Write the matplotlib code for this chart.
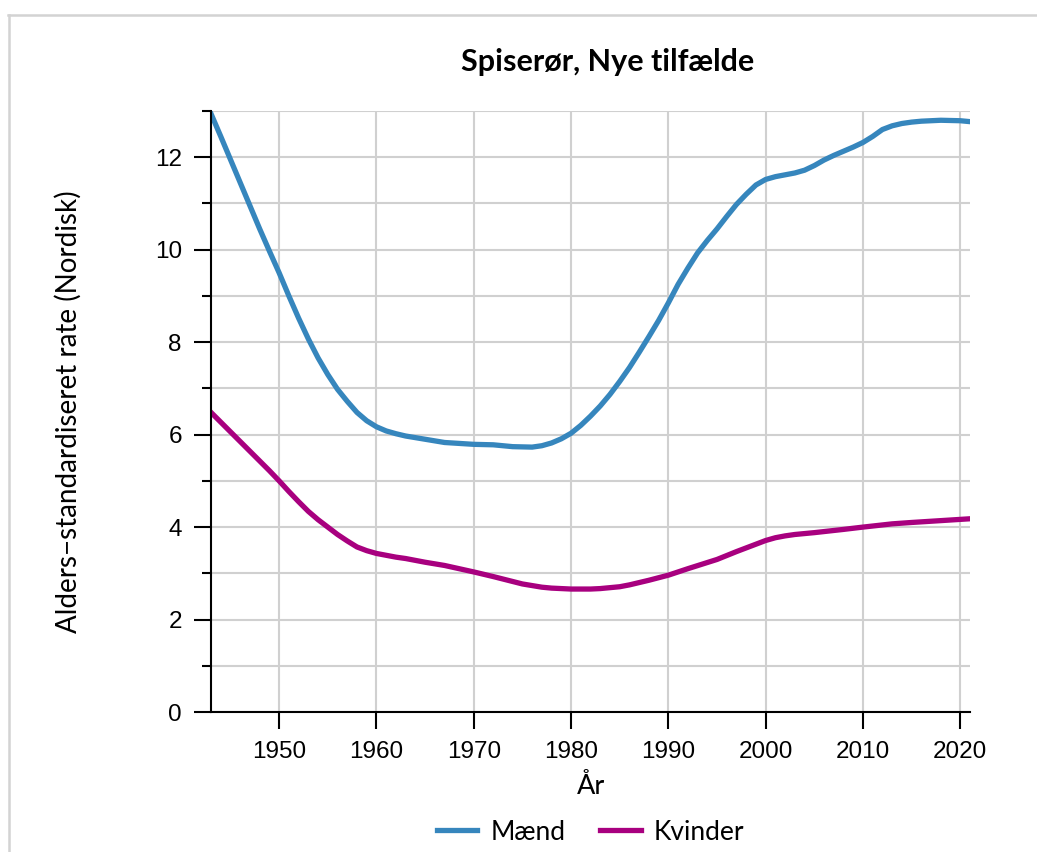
import numpy as np
import matplotlib.pyplot as plt
from matplotlib.lines import Line2D

years_m = [1943, 1944, 1945, 1946, 1947, 1948, 1949, 1950, 1951, 1952, 1953, 1954,
           1955, 1956, 1957, 1958, 1959, 1960, 1961, 1962, 1963, 1965, 1967, 1970,
           1972, 1974, 1976, 1977, 1978, 1979, 1980, 1981, 1982, 1983, 1984, 1985,
           1986, 1987, 1988, 1989, 1990, 1991, 1992, 1993, 1994, 1995, 1996, 1997,
           1998, 1999, 2000, 2001, 2002, 2003, 2004, 2005, 2006, 2007, 2008, 2009,
           2010, 2011, 2012, 2013, 2014, 2015, 2016, 2018, 2020, 2021]
maend = [12.94, 12.45, 11.95, 11.45, 10.95, 10.45, 9.97, 9.5, 9.0, 8.52, 8.07, 7.66,
         7.3, 6.98, 6.72, 6.48, 6.3, 6.17, 6.08, 6.02, 5.97, 5.9, 5.83, 5.79,
         5.78, 5.74, 5.73, 5.76, 5.82, 5.91, 6.03, 6.2, 6.4, 6.62, 6.87, 7.15,
         7.45, 7.78, 8.12, 8.47, 8.85, 9.25, 9.6, 9.93, 10.2, 10.45, 10.72, 10.98,
         11.2, 11.4, 11.52, 11.58, 11.62, 11.66, 11.72, 11.82, 11.94, 12.04, 12.13, 12.22,
         12.32, 12.45, 12.6, 12.68, 12.73, 12.76, 12.78, 12.8, 12.79, 12.77]

years_k = [1943, 1944, 1945, 1946, 1947, 1948, 1949, 1950, 1951, 1952, 1953, 1954,
           1955, 1956, 1957, 1958, 1959, 1960, 1961, 1962, 1963, 1965, 1967, 1970,
           1972, 1975, 1977, 1978, 1980, 1982, 1983, 1985, 1986, 1987, 1988, 1990,
           1992, 1995, 1997, 1998, 2000, 2001, 2002, 2003, 2005, 2008, 2010, 2013,
           2015, 2018, 2021]
kvinder = [6.48, 6.27, 6.06, 5.85, 5.64, 5.43, 5.22, 5.0, 4.77, 4.55, 4.34, 4.16,
           4.0, 3.84, 3.7, 3.57, 3.49, 3.43, 3.39, 3.35, 3.32, 3.24, 3.17, 3.03,
           2.93, 2.77, 2.7, 2.68, 2.66, 2.66, 2.67, 2.71, 2.75, 2.8, 2.85, 2.96,
           3.1, 3.3, 3.47, 3.55, 3.71, 3.77, 3.81, 3.84, 3.88, 3.95, 4.0, 4.07,
           4.1, 4.14, 4.18]

blue = '#3686bd'
magenta = '#a8007f'

fig = plt.figure(figsize=(10.37, 8.52), dpi=100)
ax = fig.add_axes([0.2035, 0.1643, 0.7319, 0.7054])

# light frame around the figure (top and left only)
fig.add_artist(Line2D([8/1037, 1], [1-15/852, 1-15/852], color='#d3d3d3', lw=1.8,
                      transform=fig.transFigure))
fig.add_artist(Line2D([9/1037, 9/1037], [0, 1-15/852], color='#d3d3d3', lw=1.8,
                      transform=fig.transFigure))

ax.plot(years_m, maend, color=blue, lw=3.8, label='Mænd', solid_joinstyle='round')
ax.plot(years_k, kvinder, color=magenta, lw=3.8, label='Kvinder', solid_joinstyle='round')

ax.set_xlim(1943, 2021)
ax.set_ylim(0, 13)
ax.set_xticks(range(1950, 2021, 10))
ax.set_yticks(range(0, 13, 2))
ax.set_yticks(range(1, 14, 2), minor=True)
ax.grid(True, which='both', color='#d0d0d0', lw=1.5)
ax.set_axisbelow(True)

for s in ['top', 'right']:
    ax.spines[s].set_visible(False)
for s in ['left', 'bottom']:
    ax.spines[s].set_linewidth(1.5)

ax.tick_params(axis='both', which='major', length=12, width=1.5, labelsize=17.5,
               pad=9)
ax.tick_params(axis='y', which='minor', length=6.5, width=1.5)
for lab in ax.get_xticklabels() + ax.get_yticklabels():
    lab.set_family('Liberation Sans')

fig.text(0.586, 1 - 62/852, 'Spiserør, Nye tilfælde', family='Lato', weight='bold',
         fontsize=22, ha='center', va='center')
ax.set_xlabel('År', family='Lato', fontsize=19.5)
ax.xaxis.set_label_coords(0.5, -0.103)
ax.set_ylabel('Alders\u2212standardiseret rate (Nordisk)', family='Lato', fontsize=20)
ax.yaxis.set_label_coords(-0.170, 0.5)

ax.legend(loc='center', bbox_to_anchor=(0.5, -0.2), ncol=2, frameon=False,
          prop={'family': 'Lato', 'size': 19}, handlelength=1.55, columnspacing=1.3,
          handletextpad=0.5)

fig.savefig('out.png', dpi=100)
